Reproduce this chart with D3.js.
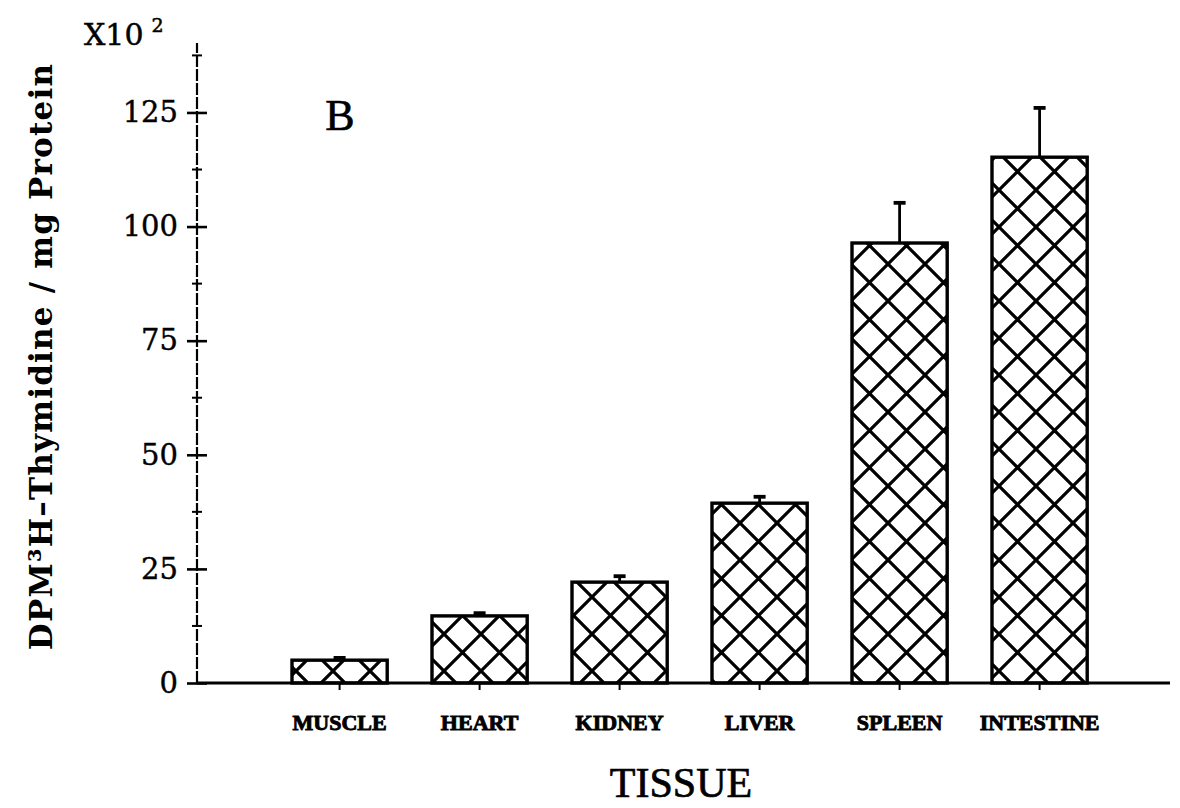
<!DOCTYPE html>
<html>
<head>
<meta charset="utf-8">
<script src="https://cdn.jsdelivr.net/npm/d3@7"></script>
<style>
  html, body { margin: 0; padding: 0; background: #fff; }
  svg { display: block; }
</style>
</head>
<body>
<svg id="chart" width="1180" height="808"></svg>
<script>
// ---- data ----
const categories = ["MUSCLE", "HEART", "KIDNEY", "LIVER", "SPLEEN", "INTESTINE"];
const values = [5.0, 14.7, 22.1, 39.4, 96.4, 115.2];
const errors = [0.5, 0.6, 1.3, 1.4, 8.8, 10.8];
const majorTicks = [0, 25, 50, 75, 100, 125];
const minorTicks = [12.5, 37.5, 62.5, 87.5, 112.5, 137.5];
const yTitle = "DPM\u00B3H\u2013Thymidine / mg Protein";
const xTitle = "TISSUE";
const panelLabel = "B";

// ---- layout ----
const svg = d3.select("#chart");
const x = d3.scaleBand().domain(categories).range([269.6, 1109.6]).paddingInner(0.32).paddingOuter(0.16);
const y = d3.scaleLinear().domain([0, 140]).range([683, 44]);
const axisX = 197;

// hatch pattern
const defs = svg.append("defs");
const p = defs.append("pattern").attr("id", "hatch").attr("patternUnits", "userSpaceOnUse")
  .attr("width", 37).attr("height", 37).attr("x", 0).attr("y", 5);
p.append("rect").attr("width", 37).attr("height", 37).attr("fill", "#fff");
p.append("path").attr("d", "M-2,-2 L39,39 M-2,39 L39,-2").attr("stroke", "#000").attr("stroke-width", 3.2);

// bars
svg.append("g").selectAll("rect").data(categories).join("rect")
  .attr("x", d => x(d))
  .attr("y", (d, i) => y(values[i]))
  .attr("width", x.bandwidth())
  .attr("height", (d, i) => y(0) - y(values[i]))
  .attr("fill", "url(#hatch)")
  .attr("stroke", "#000").attr("stroke-width", 3.4);

// error bars
const eg = svg.append("g").attr("stroke", "#000").attr("stroke-width", 2.8);
categories.forEach((c, i) => {
  const cx = x(c) + x.bandwidth() / 2;
  eg.append("line").attr("x1", cx).attr("x2", cx).attr("y1", y(values[i])).attr("y2", y(values[i] + errors[i]));
  eg.append("line").attr("x1", cx - 6).attr("x2", cx + 6).attr("y1", y(values[i] + errors[i])).attr("y2", y(values[i] + errors[i])).attr("stroke-width", 3.8);
});

// x axis line
svg.append("line").attr("x1", axisX).attr("x2", 1170).attr("y1", y(0)).attr("y2", y(0))
  .attr("stroke", "#000").attr("stroke-width", 2.8);

// x axis ticks + labels via d3 axis
const xAxis = d3.axisBottom(x).tickSize(7).tickSizeOuter(0).tickPadding(24);
const xg = svg.append("g").attr("transform", `translate(0,${y(0)})`).call(xAxis);
xg.select(".domain").remove();
xg.selectAll(".tick line").attr("stroke", "#000").attr("stroke-width", 2);
xg.selectAll(".tick text")
  .attr("font-family", "'Liberation Serif', serif")
  .attr("font-weight", "bold")
  .attr("font-size", 22)
  .attr("stroke", "#000").attr("stroke-width", 0.9)
  .attr("fill", "#000");

// y axis line (dashed look)
svg.append("line").attr("x1", axisX).attr("x2", axisX).attr("y1", y(0)).attr("y2", 43)
  .attr("stroke", "#000").attr("stroke-width", 2.2).attr("stroke-dasharray", "12,2");

// y major ticks
const yAxis = d3.axisLeft(y).tickValues(majorTicks).tickSize(10).tickPadding(9);
const yg = svg.append("g").attr("transform", `translate(${axisX},0)`).call(yAxis);
yg.select(".domain").remove();
yg.selectAll(".tick line").attr("x2", 10).attr("x1", -10).attr("stroke", "#000").attr("stroke-width", 2.6);
yg.selectAll(".tick text")
  .attr("x", -19)
  .attr("font-family", "'DejaVu Serif', serif")
  .attr("font-size", 29)
  .attr("stroke", "#000").attr("stroke-width", 0.4)
  .attr("fill", "#000");

// y minor ticks
svg.append("g").selectAll("line").data(minorTicks).join("line")
  .attr("x1", axisX - 5).attr("x2", axisX + 5)
  .attr("y1", d => y(d)).attr("y2", d => y(d))
  .attr("stroke", "#000").attr("stroke-width", 2);

// y title
svg.append("text")
  .attr("transform", `translate(52,${(63 + 650) / 2}) rotate(-90)`)
  .attr("text-anchor", "middle")
  .attr("font-family", "'DejaVu Serif', serif")
  .attr("font-weight", "bold")
  .attr("font-size", 31)
  .attr("letter-spacing", 1.2)
  .attr("fill", "#000")
  .text(yTitle);

// multiplier
const mult = svg.append("text").attr("x", 84).attr("y", 45)
  .attr("font-family", "'DejaVu Serif', serif").attr("font-size", 30)
  .attr("stroke", "#000").attr("stroke-width", 0.5).attr("fill", "#000");
mult.append("tspan").text("X10");
mult.append("tspan").attr("dx", 8).attr("dy", -13).attr("font-size", 19).text("2");

// panel label
svg.append("text").attr("x", 340).attr("y", 130).attr("text-anchor", "middle")
  .attr("font-family", "'Liberation Serif', serif").attr("font-size", 44)
  .attr("stroke", "#000").attr("stroke-width", 0.6).attr("fill", "#000")
  .text(panelLabel);

// x title
svg.append("text").attr("x", 681).attr("y", 797).attr("text-anchor", "middle")
  .attr("font-family", "'Liberation Serif', serif").attr("font-size", 42)
  .attr("stroke", "#000").attr("stroke-width", 0.7).attr("fill", "#000")
  .text(xTitle);
</script>
</body>
</html>
